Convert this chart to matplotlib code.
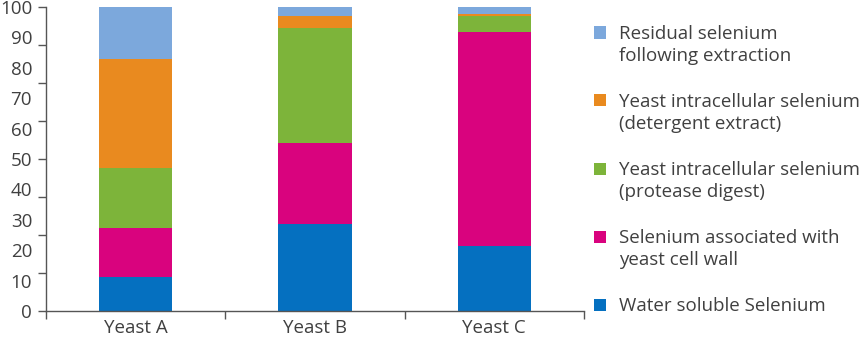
import numpy as np
import matplotlib.pyplot as plt
from matplotlib.patches import Rectangle

plt.rcParams['font.family'] = ['Open Sans', 'DejaVu Sans']

categories = ['Yeast A', 'Yeast B', 'Yeast C']

# stacked from the bottom up, in percent
water_soluble = [11.1, 28.7, 21.3]
cell_wall = [16.2, 26.5, 70.4]
protease_digest = [19.7, 37.8, 5.3]
detergent_extract = [35.8, 4.0, 0.7]
residual = [17.2, 3.0, 2.3]

series_labels = [
    'Water soluble Selenium',
    'Selenium associated with\nyeast cell wall',
    'Yeast intracellular selenium\n(protease digest)',
    'Yeast intracellular selenium\n(detergent extract)',
    'Residual selenium\nfollowing extraction',
]
series_colors = ['#0570C0', '#D9037E', '#7DB43A', '#E98A1F', '#7CA8DC']

text_color = '#404040'
font_size = 13.5

fig = plt.figure(figsize=(8.64, 3.39), dpi=100)
ax = fig.add_axes([46 / 864, 1 - 311 / 339, (584 - 46) / 864, (311 - 7) / 339])

x = np.arange(len(categories))
bottom = np.zeros(len(categories))
for vals, color in zip([water_soluble, cell_wall, protease_digest,
                        detergent_extract, residual], series_colors):
    ax.bar(x, vals, width=0.41, bottom=bottom, color=color, linewidth=0)
    bottom += np.array(vals)

ax.set_xlim(-0.5, 2.5)
ax.set_ylim(0, 100)

# tick marks every 12.5, labels every 10
ax.yaxis.remove_overlapping_locs = False
ax.set_yticks(np.arange(0, 100.1, 12.5))
ax.set_yticklabels([])
ax.set_yticks(np.arange(0, 101, 10), minor=True)
ax.set_yticklabels([str(v) for v in range(0, 101, 10)], minor=True)
ax.tick_params(axis='y', which='major', length=6, width=1, color='#555555')
ax.tick_params(axis='y', which='minor', length=0, pad=10, labelsize=font_size,
               labelcolor=text_color)

ax.set_xticks([-0.5, 0.5, 1.5, 2.5])
ax.set_xticklabels([])
ax.set_xticks(x, minor=True)
ax.set_xticklabels(categories, minor=True)
ax.tick_params(axis='x', which='major', length=6, width=1, color='#555555')
ax.tick_params(axis='x', which='minor', length=0, pad=6, labelsize=font_size,
               labelcolor=text_color)

for side in ['top', 'right']:
    ax.spines[side].set_visible(False)
for side in ['left', 'bottom']:
    ax.spines[side].set_color('#555555')
    ax.spines[side].set_linewidth(1)

# legend drawn by hand, top entry first; one text per line so baselines are exact
legend_baselines = [39, 107, 175, 243, 311]
for base_y, label, color in zip(legend_baselines, series_labels[::-1], series_colors[::-1]):
    fig.patches.append(Rectangle((594 / 864, 1 - (base_y - 0.5) / 339), 12 / 864, 12 / 339,
                                 transform=fig.transFigure, color=color, linewidth=0))
    for i, line in enumerate(label.split('\n')):
        fig.text(619 / 864, 1 - (base_y + 22 * i) / 339, line, fontsize=font_size,
                 color=text_color, va='baseline', ha='left')

fig.savefig('out.png', dpi=100)
